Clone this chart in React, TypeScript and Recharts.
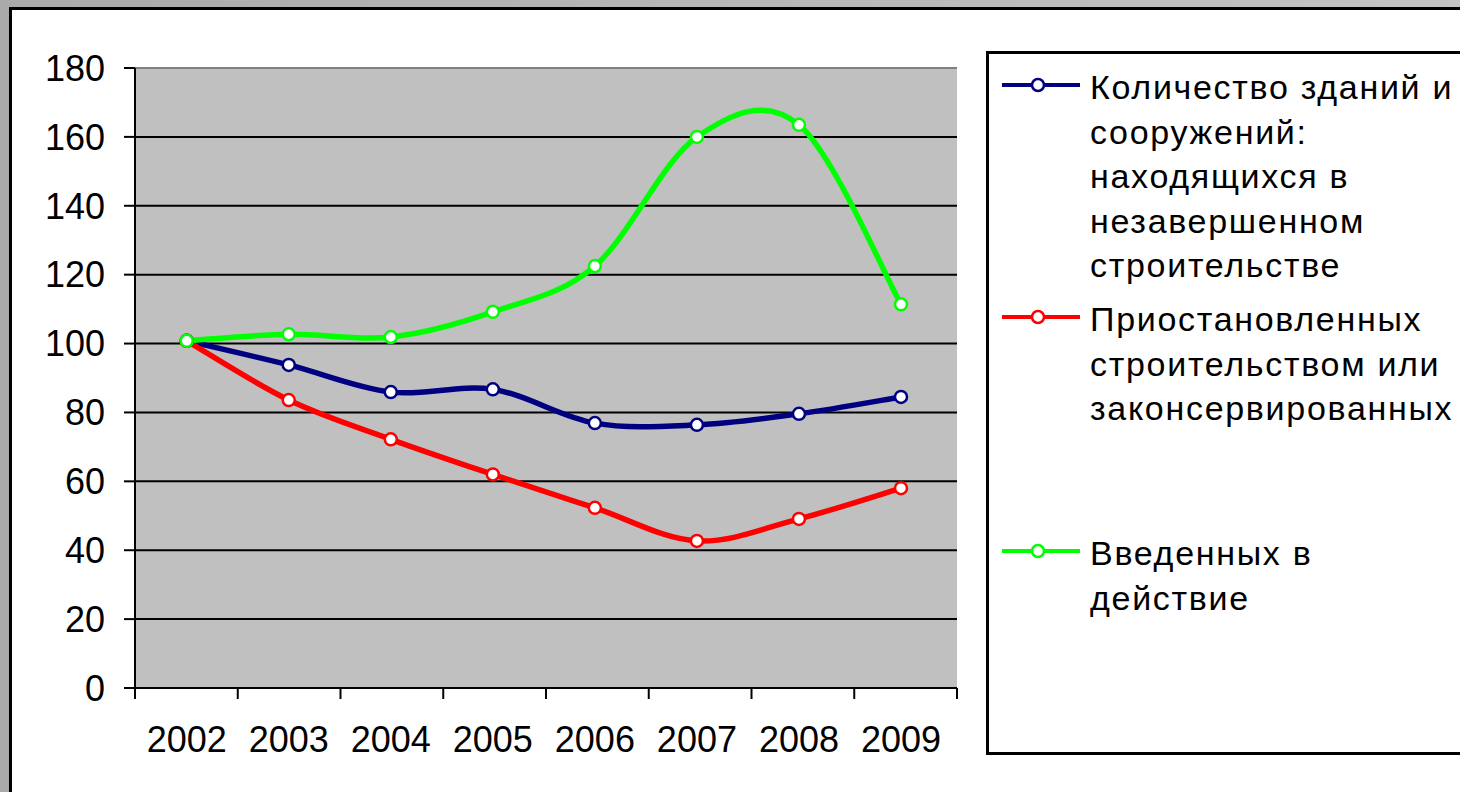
import { LineChart, Line, XAxis, YAxis, CartesianGrid, ReferenceLine } from 'recharts'

const years = ['2002', '2003', '2004', '2005', '2006', '2007', '2008', '2009']
const buildingsTotal = [100.8, 93.8, 85.9, 86.7, 76.9, 76.4, 79.6, 84.5]
const suspended = [100.8, 83.6, 72.2, 62.0, 52.3, 42.7, 49.1, 58.0]
const commissioned = [100.8, 102.7, 101.9, 109.2, 122.5, 160.0, 163.5, 111.4]
const yTicks = [0, 20, 40, 60, 80, 100, 120, 140, 160, 180]

const seriesNames = [
  'Количество зданий и\nсооружений:\nнаходящихся в\nнезавершенном\nстроительстве',
  'Приостановленных\nстроительством или\nзаконсервированных',
  'Введенных в\nдействие',
]
const seriesColors = ['#000080', '#ff0000', '#00ff00']
const legendTops = [11, 243, 477]

const data = years.map((year, i) => ({
  year,
  total: buildingsTotal[i],
  suspended: suspended[i],
  commissioned: commissioned[i],
}))

const FONT = '"Liberation Sans", Arial, sans-serif'
const PLOT_LEFT = 135
const BAND = 822 / 8

// excel style smoothing (catmull-rom through the points)
const excelSmooth = (context: any) => {
  let pts: number[][] = []
  return {
    areaStart() {},
    areaEnd() {},
    lineStart() {
      pts = []
    },
    point(x: number, y: number) {
      pts.push([+x, +y])
    },
    lineEnd() {
      if (!pts.length) return
      context.moveTo(pts[0][0], pts[0][1])
      for (let i = 0; i < pts.length - 1; i++) {
        const p0 = pts[Math.max(0, i - 1)]
        const p1 = pts[i]
        const p2 = pts[i + 1]
        const p3 = pts[Math.min(pts.length - 1, i + 2)]
        context.bezierCurveTo(
          p1[0] + (p2[0] - p0[0]) / 6,
          p1[1] + (p2[1] - p0[1]) / 6,
          p2[0] - (p3[0] - p1[0]) / 6,
          p2[1] - (p3[1] - p1[1]) / 6,
          p2[0],
          p2[1]
        )
      }
    },
  }
}

const YearTick = (props: any) => {
  const { x, y, payload, index } = props
  const axisY = y - 38
  const left = PLOT_LEFT + index * BAND
  const last = index === years.length - 1
  return (
    <g>
      <line x1={left} y1={axisY} x2={left} y2={axisY + 11} stroke='#000' strokeWidth={2} />
      {last && (
        <line x1={left + BAND} y1={axisY} x2={left + BAND} y2={axisY + 11} stroke='#000' strokeWidth={2} />
      )}
      <text x={x} y={y} dy='0.71em' textAnchor='middle' fill='#000' fontSize={36} fontFamily={FONT}>
        {payload.value}
      </text>
    </g>
  )
}

function LegendBox() {
  return (
    <div
      style={{
        position: 'absolute',
        left: 986,
        top: 51,
        width: 600,
        height: 704,
        boxSizing: 'border-box',
        border: '3px solid #000',
        background: '#fff',
      }}
    >
      {seriesNames.map((name, i) => (
        <div key={name} style={{ position: 'absolute', left: 0, top: legendTops[i] }}>
          <svg width={80} height={20} style={{ position: 'absolute', left: 13, top: 10 }}>
            <line x1={0} y1={10} x2={78} y2={10} stroke={seriesColors[i]} strokeWidth={4} />
            <circle cx={36} cy={10} r={6} fill='#fff' stroke={seriesColors[i]} strokeWidth={2.5} />
          </svg>
          <div
            style={{
              position: 'absolute',
              left: 101,
              top: 0,
              width: 500,
              whiteSpace: 'pre-line',
              fontFamily: FONT,
              fontSize: 34,
              letterSpacing: '1.7px',
              lineHeight: '44.5px',
              color: '#000',
            }}
          >
            {name}
          </div>
        </div>
      ))}
    </div>
  )
}

export default function App() {
  const dot = (c: string) => ({ r: 6, fill: '#fff', stroke: c, strokeWidth: 2.5 })
  return (
    <div
      style={{
        position: 'absolute',
        left: 0,
        top: 0,
        width: 1460,
        height: 792,
        overflow: 'hidden',
        background: 'linear-gradient(90deg, #aaaaaa, #c4c4c4)',
      }}
    >
      <div
        style={{
          position: 'absolute',
          left: 9,
          top: 7,
          width: 1600,
          height: 900,
          border: '3px solid #000',
          background: '#fff',
        }}
      />
      <div style={{ position: 'absolute', left: 0, top: 0 }}>
        <LineChart width={1460} height={792} data={data} margin={{ top: 68, right: 503, bottom: 0, left: 0 }}>
          <CartesianGrid vertical={false} stroke='#000' strokeWidth={2} fill='#c0c0c0' fillOpacity={1} />
          <ReferenceLine y={180} stroke='#808080' strokeWidth={2} />
          <XAxis
            dataKey='year'
            height={104}
            padding={{ left: 51.7, right: 56 }}
            axisLine={{ stroke: '#000', strokeWidth: 2 }}
            tickLine={false}
            tickSize={11}
            tickMargin={27}
            interval={0}
            tick={<YearTick />}
          />
          <YAxis
            width={135}
            domain={[0, 180]}
            ticks={yTicks}
            interval={0}
            axisLine={{ stroke: '#000', strokeWidth: 2 }}
            tickLine={{ stroke: '#000', strokeWidth: 2 }}
            tickSize={11}
            tickMargin={19}
            tick={{ fill: '#000', fontSize: 36, fontFamily: FONT }}
          />
          <YAxis
            yAxisId='right'
            orientation='right'
            width={0}
            domain={[0, 180]}
            tick={false}
            tickLine={false}
            axisLine={{ stroke: '#808080', strokeWidth: 2 }}
          />
          <Line
            dataKey='total'
            name={seriesNames[0]}
            type={excelSmooth as any}
            stroke={seriesColors[0]}
            strokeWidth={5.5}
            dot={dot(seriesColors[0])}
            isAnimationActive={false}
          />
          <Line
            dataKey='suspended'
            name={seriesNames[1]}
            type={excelSmooth as any}
            stroke={seriesColors[1]}
            strokeWidth={5.5}
            dot={dot(seriesColors[1])}
            isAnimationActive={false}
          />
          <Line
            dataKey='commissioned'
            name={seriesNames[2]}
            type={excelSmooth as any}
            stroke={seriesColors[2]}
            strokeWidth={5.5}
            dot={dot(seriesColors[2])}
            isAnimationActive={false}
          />
        </LineChart>
      </div>
      <LegendBox />
    </div>
  )
}
